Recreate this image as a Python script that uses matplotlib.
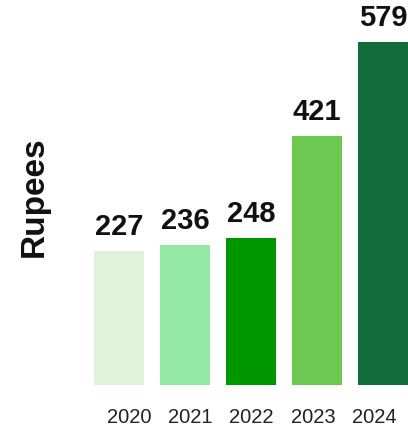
import matplotlib
matplotlib.use("Agg")
import matplotlib.pyplot as plt
import numpy as np

years = ["2020", "2021", "2022", "2023", "2024"]
values = [227, 236, 248, 421, 579]
colors = ["#dff2da", "#93e8a5", "#009600", "#6cc850", "#116d3b"]

plt.rcParams["font.family"] = ["Liberation Sans", "DejaVu Sans"]

fig = plt.figure(figsize=(4.08, 4.26), dpi=100)
ax = fig.add_axes([0, 41 / 426, 1, 385 / 426])

x = np.arange(len(years))
bars = ax.bar(x, values, width=0.77, color=colors)
ax.bar_label(bars, labels=[str(v) for v in values], padding=7,
             fontsize=21, fontweight="bold", color="#111111")

ax.set_xlim(-1.803, 4.379)
ax.set_ylim(0, 650)

# the year labels sit slightly off the bar centres in the original
ax.set_xticks(x * 0.93 + 0.15)
ax.set_xticklabels(years, fontsize=14.5, color="#222222")
ax.tick_params(axis="x", length=0, pad=16.5)
ax.set_yticks([])
for s in ax.spines.values():
    s.set_visible(False)

fig.text(34 / 408, 1 - 197 / 426, "Rupees", rotation=90, ha="center", va="center",
         fontsize=24, fontweight="bold", color="#111111")

fig.savefig("out.png", dpi=100)
